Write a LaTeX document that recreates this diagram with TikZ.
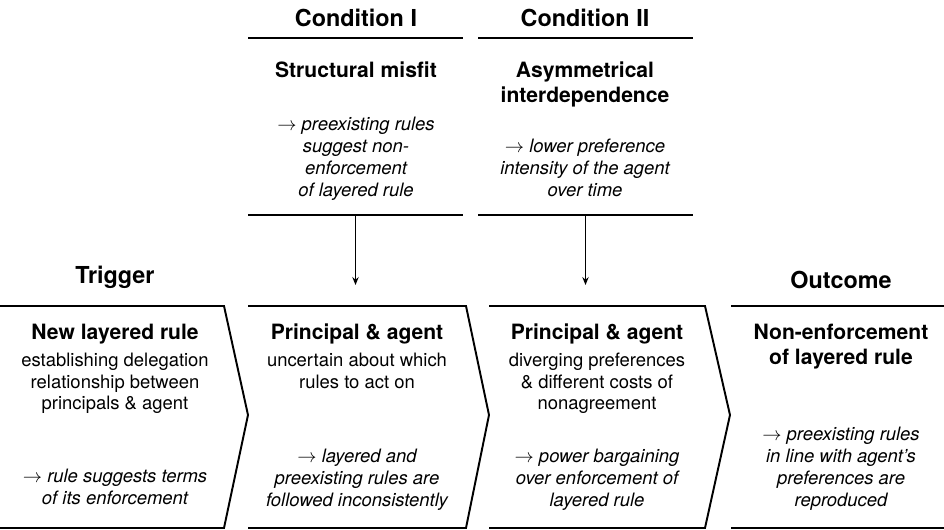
\documentclass[tikz,border=0pt]{standalone}
\usepackage{fontspec}
\setmainfont{TeX Gyre Heros}
\usetikzlibrary{arrows.meta}
\begin{document}
\begin{tikzpicture}[x=0.02cm,y=-0.02cm,line width=1.1pt,>={Stealth[length=4.5pt,width=3.6pt]},
  head/.style={anchor=base,inner sep=0pt,font=\fontsize{13.3}{16}\selectfont\bfseries},
  ttl/.style={anchor=north,inner sep=0pt,align=center,font=\fontsize{12}{14.2}\selectfont\bfseries},
  txt/.style={anchor=north,inner sep=0pt,align=center,font=\fontsize{10.5}{12.3}\selectfont},
  eff/.style={anchor=south,inner sep=0pt,align=center,text depth=0pt,font=\fontsize{10.5}{12.4}\selectfont\itshape}]
\useasboundingbox (0,0) rectangle (944,530);
\foreach \l/\r/\t/\n in {0/224/248/a,248/466/489/b,489/705/730/c}{\draw (\l,306) -- (\r,306) coordinate[pos=0.5] (\n top) -- (\t,415) -- (\r,528) -- (\l,528);};
\draw (731,306) -- (944,306) coordinate[pos=0.5] (dtop); \draw (731,528) -- (944,528);
\foreach \x/\n in {248/one,478/two}{\draw (\x,38) -- ++(215,0); \draw (\x,215) -- ++(215,0) coordinate[pos=0.5] (\n);};
\node[head] (trig) at (115,284) {Trigger};
\node[head] (outc) at (841,289) {Outcome};
\node[head] (condI) at (356,27) {Condition I};
\node[head] (condII) at (585,27) {Condition II};
\node[ttl] (misfit) at (356,61) {Structural misfit};
\node[eff] (misfitx) at (356,197) {$\rightarrow$ preexisting rules\\suggest non-\\enforcement\\of layered rule};
\node[ttl] (asym) at (585,61) {Asymmetrical\\interdependence};
\node[eff] (asymx) at (585,197) {$\rightarrow$ lower preference\\intensity of the agent\\over time};
\node[ttl] (rule) at (115,323) {New layered rule};
\node[txt] (rulet) at (115,352) {establishing delegation\\relationship between\\principals \& agent};
\node[eff] (rulex) at (115,505) {$\rightarrow$ rule suggests terms\\of its enforcement};
\node[ttl] (unc) at (357,323) {Principal \& agent};
\node[txt] (unct) at (357,352) {uncertain about which\\rules to act on};
\node[eff] (uncx) at (357,507) {$\rightarrow$ layered and\\preexisting rules are\\followed inconsistently};
\node[ttl] (div) at (597,323) {Principal \& agent};
\node[txt] (divt) at (597,352) {diverging preferences\\\& different costs of\\nonagreement};
\node[eff] (divx) at (597,507) {$\rightarrow$ power bargaining\\over enforcement of\\layered rule};
\node[ttl] (non) at (841,323) {Non-enforcement\\of layered rule};
\node[eff] (nonx) at (841,507) {$\rightarrow$ preexisting rules\\in line with agent’s\\preferences are\\reproduced};
\draw[->,shorten >=0.42cm] (one) -- (one |- btop);
\draw[->,shorten >=0.42cm] (two) -- (two |- ctop);
\end{tikzpicture}
\end{document}
